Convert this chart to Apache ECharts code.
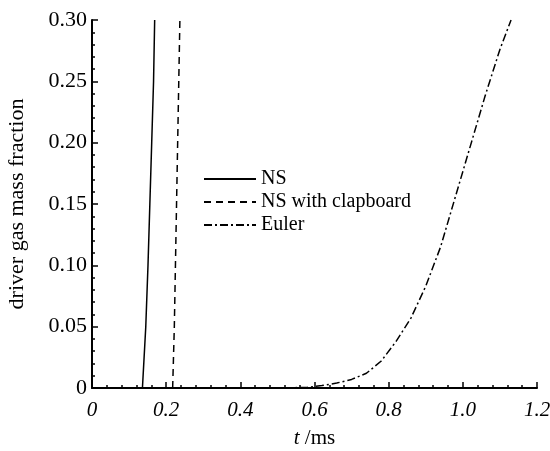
<!DOCTYPE html>
<html>
<head>
<meta charset="utf-8">
<script src="https://cdn.jsdelivr.net/npm/echarts@6/dist/echarts.min.js"></script>
<style>
  html, body { margin: 0; padding: 0; background: #fff; }
  #chart { width: 550px; height: 451px; }
</style>
</head>
<body>
<div id="chart"></div>
<script>
// t (ms), mass fraction
const nsData = [[0, 0], [0.136, 0], [0.145, 0.05], [0.151, 0.10], [0.156, 0.15], [0.161, 0.20], [0.166, 0.25], [0.169, 0.30]];
const clapboardData = [[0.2175, 0], [0.222, 0.05], [0.225, 0.10], [0.228, 0.15], [0.231, 0.20], [0.234, 0.25], [0.237, 0.30]];
const eulerData = [[0, 0], [0.5, 0], [0.58, 0.0005], [0.62, 0.002], [0.66, 0.004], [0.7, 0.007], [0.74, 0.012], [0.78, 0.022],
  [0.82, 0.038], [0.86, 0.057], [0.9, 0.083], [0.94, 0.115], [0.98, 0.156], [1.02, 0.197], [1.06, 0.238], [1.1, 0.276], [1.13, 0.30]];
const seriesNames = ['NS', 'NS with clapboard', 'Euler'];

const font = 'Liberation Serif';
const chart = echarts.init(document.getElementById('chart'));

const lineSeries = (name, data, type) => ({
  name: name,
  type: 'line',
  data: data,
  showSymbol: false,
  symbol: 'none',
  lineStyle: { color: '#000', width: 1.5, type: type },
  itemStyle: { color: '#000' },
});

const option = {
  animation: false,
  grid: { left: 92, right: 13, top: 20, bottom: 63, outerBoundsMode: 'none' },
  legend: {
    orient: 'vertical',
    left: 198,
    top: 164,
    itemWidth: 52,
    itemHeight: 12,
    itemGap: 3,
    itemStyle: { opacity: 0 },
    textStyle: { fontFamily: font, fontSize: 20, color: '#000' },
    data: seriesNames,
  },
  xAxis: {
    type: 'value',
    min: 0,
    max: 1.2,
    interval: 0.2,
    name: '{i|t} /ms',
    nameLocation: 'middle',
    nameGap: 40,
    nameTextStyle: {
      fontFamily: font, fontSize: 21, color: '#000',
      rich: { i: { fontFamily: font, fontSize: 21, fontStyle: 'italic', color: '#000' } },
    },
    axisLine: { lineStyle: { color: '#000', width: 2 } },
    axisTick: { inside: true, length: 6, lineStyle: { color: '#000', width: 1.5 } },
    minorTick: { show: true, splitNumber: 5, length: 3, lineStyle: { color: '#000', width: 1.5 } },
    axisLabel: {
      fontFamily: font, fontSize: 21, fontStyle: 'italic', color: '#000', margin: 12,
      formatter: v => (v === 0 ? '0' : v.toFixed(1)),
    },
    splitLine: { show: false },
  },
  yAxis: {
    type: 'value',
    min: 0,
    max: 0.3,
    interval: 0.05,
    name: 'driver gas mass fraction',
    nameLocation: 'middle',
    nameGap: 64,
    nameTextStyle: { fontFamily: font, fontSize: 22, color: '#000' },
    axisLine: { show: true, lineStyle: { color: '#000', width: 2 } },
    axisTick: { show: true, inside: true, length: 6, lineStyle: { color: '#000', width: 1.5 } },
    minorTick: { show: true, splitNumber: 5, length: 3, lineStyle: { color: '#000', width: 1.5 } },
    axisLabel: {
      fontFamily: font, fontSize: 22, color: '#000', margin: 5,
      formatter: v => (v === 0 ? '0' : v.toFixed(2)),
    },
    splitLine: { show: false },
  },
  series: [
    lineSeries(seriesNames[0], nsData, 'solid'),
    lineSeries(seriesNames[1], clapboardData, [7, 5]),
    lineSeries(seriesNames[2], eulerData, [8, 3, 2, 3]),
  ],
};
chart.setOption(option);
</script>
</body>
</html>
